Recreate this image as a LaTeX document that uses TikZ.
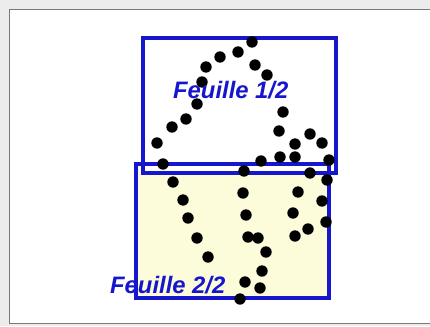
\documentclass[tikz,border=0pt]{standalone}
\usepackage{fontspec}
\setmainfont{Liberation Sans}
\definecolor{sheetblue}{RGB}{22,22,205}
\definecolor{sheetyellow}{RGB}{253,252,218}
\definecolor{framegray}{RGB}{120,120,120}
\definecolor{bggray}{RGB}{236,236,236}
\tikzset{
  sheet/.style={draw=sheetblue, line width=4pt},
  dot/.style={fill=black},
  label/.style={text=sheetblue, font=\fontsize{23.8}{28}\selectfont\bfseries\itshape, inner sep=0pt, anchor=base west}
}
\begin{document}
\begin{tikzpicture}[x=1pt,y=-1pt]
\useasboundingbox (0,0) rectangle (430,326);
\fill[bggray] (0,0) rectangle (430,326);
\filldraw[fill=white, draw=framegray, line width=1pt] (9,10) rectangle (432,323);
% sheets
\fill[sheetyellow] (136,164) rectangle (329,298);
\fill[white] (143,38) rectangle (336,173);
\draw[sheet] (143,38) rectangle (336,173);
\draw[sheet] (136,164) rectangle (329,298);
% dotted drawing
\foreach \x/\y in {252/42,238/52,220/57,206/67,255/65,267/75,202/82,197/104,186/119,172/127,157/143,163/164,173/182,183/200,188/218,197/238,208/257,
283/112,279/131,295/144,310/134,322/143,280/157,295/157,261/161,329/160,310/173,327/180,
244/171,243/193,246/215,248/237,258/238,266/252,262/271,245/282,260/288,240/299,
298/192,293/213,295/236,308/229,322/201,326/222}
  \fill[dot] (\x,\y) circle (5.7);
\node[label] (f1) at (173,99) {Feuille 1/2};
\node[label] (f2) at (110,293) {Feuille 2/2};
\end{tikzpicture}
\end{document}
